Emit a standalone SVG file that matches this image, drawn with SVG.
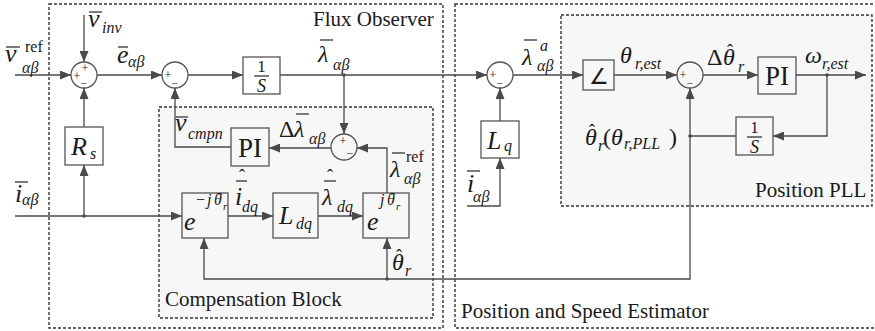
<svg xmlns="http://www.w3.org/2000/svg" width="875" height="331" viewBox="0 0 875 331" font-family="'Liberation Serif', 'Times New Roman', serif">
<defs>
<marker id="ah" markerUnits="userSpaceOnUse" markerWidth="11" markerHeight="9" refX="11" refY="4.5" orient="auto">
<path d="M0,0 L11,4.5 L0,9 z" fill="#4a4a4a"/>
</marker>
<style>
.frame{fill:none;stroke:#333;stroke-width:1.4;stroke-dasharray:3,2}
.sub{fill:#f7f7f7;stroke:#333;stroke-width:1.4;stroke-dasharray:3,2}
.blk{fill:none;stroke:#555;stroke-width:1.3}
.sum{fill:none;stroke:#555;stroke-width:1.3}
.a{fill:none;stroke:#4a4a4a;stroke-width:1.3;marker-end:url(#ah)}
.dot{fill:#4a4a4a}
.ov{stroke:#222;stroke-width:1.2}
text{font-family:"Liberation Serif","Times New Roman",serif;fill:#1a1a1a}
.m{font-style:italic;font-size:26px}
.g{font-style:italic;font-size:24px}
.s{font-style:italic;font-size:16px}
.r11{font-style:italic;font-size:11px}
.up{font-size:16px;font-style:normal}
.lbl{font-size:21px}
.pi{font-size:27px;text-anchor:middle}
.sg{font-size:12px;text-anchor:middle}
.hat{font-size:18px;font-style:normal;text-anchor:middle}
.hs{font-size:14px;font-style:normal;text-anchor:middle}
.big{font-size:24px;font-style:normal}
</style>
</defs>

<g id="flux-observer">
<rect class="frame" x="49" y="4" width="394" height="324"/>
<text class="lbl" x="313" y="26">Flux Observer</text>
</g>
<g id="estimator">
<rect class="frame" x="455" y="4" width="425" height="324"/>
<text class="lbl" x="461" y="318">Position and Speed Estimator</text>
</g>
<g id="compensation-block">
<rect class="sub" x="159" y="107" width="274" height="211"/>
<text class="lbl" x="165" y="306">Compensation Block</text>
</g>
<g id="position-pll">
<rect class="sub" x="561" y="15" width="311" height="191"/>
<text class="lbl" x="755" y="197">Position PLL</text>
</g>

<g id="connectors">
<line class="a" x1="15" y1="75" x2="71" y2="75"/>
<line class="a" x1="84" y1="15" x2="84" y2="62"/>
<line class="a" x1="97" y1="75" x2="162" y2="75"/>
<line class="a" x1="188" y1="75" x2="243" y2="75"/>
<line class="a" x1="280" y1="75" x2="487" y2="75"/>
<line class="a" x1="344" y1="75" x2="344" y2="134"/>
<line class="a" x1="513" y1="75" x2="583" y2="75"/>
<line class="a" x1="614" y1="75" x2="677" y2="75"/>
<line class="a" x1="703" y1="75" x2="758" y2="75"/>
<line class="a" x1="796" y1="75" x2="866" y2="75"/>
<polyline class="a" points="827,75 827,136 773,136"/>
<polyline class="a" points="736,136 690,136 690,88"/>
<polyline class="a" points="690,136 690,279 204,279 204,238"/>
<line class="a" x1="387" y1="279" x2="387" y2="238"/>
<polyline class="a" points="387,193 387,148 357,148"/>
<line class="a" x1="331" y1="148" x2="269" y2="148"/>
<polyline class="a" points="231,147 175,147 175,88"/>
<line class="a" x1="84" y1="127" x2="84" y2="88"/>
<line class="a" x1="15" y1="216" x2="182" y2="216"/>
<line class="a" x1="84" y1="216" x2="84" y2="165"/>
<line class="a" x1="228" y1="216" x2="273" y2="216"/>
<line class="a" x1="318" y1="216" x2="363" y2="216"/>
<line class="a" x1="500" y1="121" x2="500" y2="88"/>
<polyline class="a" points="467,206 500,206 500,158"/>
<circle class="dot" cx="344" cy="75" r="1.8"/>
<circle class="dot" cx="827" cy="75" r="1.8"/>
<circle class="dot" cx="690" cy="136" r="1.8"/>
<circle class="dot" cx="387" cy="279" r="1.8"/>
<circle class="dot" cx="84" cy="216" r="1.8"/>
</g>

<g id="sum1">
<circle class="sum" cx="84" cy="75" r="13"/>
<text class="sg" x="77" y="80">+</text>
<text class="sg" x="85" y="72">+</text>
<text class="sg" x="84" y="87">−</text>
</g>
<g id="sum2">
<circle class="sum" cx="175" cy="75" r="13"/>
<text class="sg" x="168" y="79">+</text>
<text class="sg" x="175" y="87">−</text>
</g>
<g id="sum3">
<circle class="sum" cx="500" cy="75" r="13"/>
<text class="sg" x="493" y="79">+</text>
<text class="sg" x="500" y="87">−</text>
</g>
<g id="sum4">
<circle class="sum" cx="690" cy="75" r="13"/>
<text class="sg" x="683" y="79">+</text>
<text class="sg" x="690" y="87">−</text>
</g>
<g id="sum5">
<circle class="sum" cx="344" cy="147" r="13"/>
<text class="sg" x="343" y="145">+</text>
<text class="sg" x="350" y="157">−</text>
</g>

<g id="integrator">
<rect class="blk" x="243" y="57" width="37" height="37"/>
<text x="261.5" y="72" font-size="17" text-anchor="middle">1</text>
<line class="ov" x1="254" y1="76" x2="269" y2="76"/>
<text x="261.5" y="92" font-size="18" font-style="italic" text-anchor="middle">S</text>
</g>
<g id="rs">
<rect class="blk" x="65" y="127" width="38" height="38"/>
<text class="m" x="71" y="155">R<tspan class="s" x="90" y="159">s</tspan></text>
</g>
<g id="pi-comp">
<rect class="blk" x="231" y="128" width="38" height="38"/>
<text class="pi" x="250" y="157">PI</text>
</g>
<g id="rot-neg">
<rect class="blk" x="182" y="193" width="46" height="45"/>
<text class="m" x="184" y="230">e<tspan class="up" x="196" y="205">−</tspan><tspan class="s" x="207" y="205">j</tspan><tspan class="s" x="214" y="205">θ</tspan><tspan class="hs" x="220" y="203">ˆ</tspan><tspan class="r11" x="223" y="210">r</tspan></text>
</g>
<g id="ldq">
<rect class="blk" x="273" y="193" width="45" height="45"/>
<text class="m" x="279" y="224">L<tspan class="s" x="296" y="229">dq</tspan></text>
</g>
<g id="rot-pos">
<rect class="blk" x="363" y="193" width="46" height="45"/>
<text class="m" x="367" y="230">e<tspan class="s" x="380" y="205">j</tspan><tspan class="s" x="387" y="205">θ</tspan><tspan class="hs" x="393" y="203">ˆ</tspan><tspan class="r11" x="396" y="210">r</tspan></text>
</g>
<g id="lq">
<rect class="blk" x="481" y="121" width="38" height="37"/>
<text class="m" x="487" y="149">L<tspan class="s" x="504" y="151">q</tspan></text>
</g>
<g id="angle">
<rect class="blk" x="583" y="60" width="31" height="30"/>
<text x="598.5" y="84" font-size="22" text-anchor="middle">∠</text>
</g>
<g id="pi-pll">
<rect class="blk" x="758" y="57" width="38" height="37"/>
<text class="pi" x="777" y="85">PI</text>
</g>
<g id="integrator-pll">
<rect class="blk" x="736" y="117" width="37" height="38"/>
<text x="754.5" y="133" font-size="17" text-anchor="middle">1</text>
<line class="ov" x1="747" y1="137" x2="762" y2="137"/>
<text x="754.5" y="153" font-size="18" font-style="italic" text-anchor="middle">S</text>
</g>

<g id="labels">
<text class="m" x="5" y="62">v<tspan class="up" x="25" y="52">ref</tspan><tspan class="s" x="22" y="73">αβ</tspan></text>
<line class="ov" x1="6" y1="47" x2="20" y2="47"/>

<text class="m" x="88" y="27">v<tspan class="s" x="102" y="33">inv</tspan></text>
<line class="ov" x1="89" y1="12" x2="102" y2="12"/>

<text class="m" x="117" y="63">e<tspan class="s" x="128" y="67">αβ</tspan></text>
<line class="ov" x1="118" y1="47" x2="128" y2="47"/>

<text class="g" x="318" y="62">λ<tspan class="s" x="333" y="70">αβ</tspan></text>
<line class="ov" x1="320" y1="40" x2="333" y2="40"/>

<text class="m" x="15" y="202">i<tspan class="s" x="22" y="205">αβ</tspan></text>
<line class="ov" x1="15" y1="182" x2="28" y2="182"/>

<text class="m" x="175" y="131">v<tspan class="s" x="188" y="139">cmpn</tspan></text>
<line class="ov" x1="176" y1="117" x2="188" y2="117"/>

<text class="big" x="279" y="137">Δ<tspan class="g" x="294" y="137">λ</tspan><tspan class="s" x="309" y="144">αβ</tspan></text>
<line class="ov" x1="296" y1="114" x2="309" y2="114"/>

<text class="g" x="390" y="177">λ<tspan class="up" x="406" y="162">ref</tspan><tspan class="s" x="404" y="184">αβ</tspan></text>
<line class="ov" x1="392" y1="153" x2="405" y2="153"/>

<text class="m" x="235" y="205">i<tspan class="hat" x="242" y="182">ˆ</tspan><tspan class="s" x="242" y="212">dq</tspan></text>
<line class="ov" x1="236" y1="181" x2="247" y2="181"/>

<text class="g" x="322" y="205">λ<tspan class="hat" x="330" y="182">ˆ</tspan><tspan class="s" x="337" y="212">dq</tspan></text>
<line class="ov" x1="324" y1="181" x2="336" y2="181"/>

<text class="g" x="392" y="270">θ<tspan class="hat" x="399" y="262">ˆ</tspan><tspan class="s" x="405" y="276">r</tspan></text>

<text class="g" x="522" y="65">λ<tspan class="s" x="540" y="51">a</tspan><tspan class="s" x="537" y="71">αβ</tspan></text>
<line class="ov" x1="524" y1="40" x2="537" y2="40"/>

<text class="g" x="620" y="63">θ<tspan class="s" x="635" y="69">r,est</tspan></text>

<text class="big" x="707" y="65">Δ<tspan class="g" x="723" y="65">θ</tspan><tspan class="hat" x="730" y="57">ˆ</tspan><tspan class="s" x="738" y="72">r</tspan></text>

<text class="g" x="805" y="63">ω<tspan class="s" x="822" y="69">r,est</tspan></text>

<text class="m" x="467" y="192">i<tspan class="s" x="473" y="202">αβ</tspan></text>
<line class="ov" x1="467" y1="171" x2="480" y2="171"/>

<text class="g" x="585" y="145">θ<tspan class="hat" x="592" y="137">ˆ</tspan><tspan class="s" x="598" y="151">r</tspan><tspan class="big" x="603" y="145">(</tspan><tspan x="611" y="145">θ</tspan><tspan class="s" x="624" y="149" font-size="17">r,PLL</tspan><tspan class="big" x="669" y="145">)</tspan></text>
</g>
</svg>
